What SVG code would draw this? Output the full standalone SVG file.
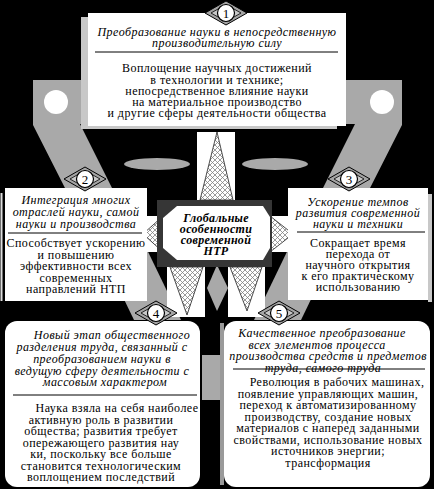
<svg xmlns="http://www.w3.org/2000/svg" width="434" height="489" viewBox="0 0 434 489">
<defs>
<pattern id="hatch" width="5" height="5" patternUnits="userSpaceOnUse">
<rect width="5" height="5" fill="#fff"/>
<path d="M0,0 L5,5 M5,0 L0,5" stroke="#808080" stroke-width="0.8"/>
</pattern>
<g id="badge">
<polygon points="-21,0 0,-12 21,0 0,12" fill="#a4a4a4" stroke="#000" stroke-width="1"/>
<polygon points="-15,0 0,-8.5 15,0 0,8.5" fill="#c8c8c8" stroke="#000" stroke-width="0.8"/>
<circle r="8.5" fill="#fff" stroke="#000" stroke-width="1.2"/>
</g>
</defs>
<style>
.band{fill:#a9a9a9}
.box{fill:#fff}
.shadow{fill:#c8c8c8}
.tri{fill:url(#hatch);stroke:#222;stroke-width:0.8}
.div{stroke:#000;stroke-width:1}
text{font-family:"Liberation Serif","Times New Roman","DejaVu Serif",serif;font-size:12px;letter-spacing:0.45px;text-anchor:middle;fill:#000}
.it{font-style:italic}
.ctr{font-weight:bold;font-style:italic;font-size:12px;letter-spacing:0.3px}
.num{font-size:13px;letter-spacing:0}
</style>
<rect width="434" height="489" fill="#000"/>

<g id="connectors">
<polygon class="band" points="33,80 88,80 88,124 80,124 113,190 66,190 33,125"/>
<polygon class="band" points="346,80 402,80 402,125 369,190 322,190 355,124 346,124"/>
<circle cx="56" cy="102" r="12" fill="#fff"/>
<circle cx="382" cy="102" r="12" fill="#fff"/>
<polygon class="band" points="76,200 123,200 181,320 134,320"/>
<polygon class="band" points="359,200 312,200 254,320 301,320"/>
<ellipse class="band" cx="157" cy="164" rx="33" ry="6"/>
<ellipse class="band" cx="275" cy="164" rx="33" ry="6"/>
<rect class="box" x="197" y="132" width="38" height="68"/>
<polygon class="tri" points="217,132 233,200 200,200"/>
<rect class="box" x="145" y="216" width="18" height="36"/>
<polygon class="tri" points="143,234 163,216 163,252"/>
<rect class="box" x="270" y="216" width="19" height="36"/>
<polygon class="tri" points="270,216 270,252 293,234"/>
<rect class="box" x="167" y="267" width="38" height="50"/>
<polygon class="tri" points="170,267 203,267 187,315"/>
<rect class="box" x="228" y="267" width="37" height="50"/>
<polygon class="tri" points="230,267 262,267 247,311"/>
<polygon class="band" points="217,265 228,288 217,311 207,288"/>
<rect class="band" x="202" y="355" width="18" height="45"/>
</g>

<g id="node-center">
<rect x="157" y="200" width="115" height="67" fill="#363636"/>
<polygon points="177,206 263,206 270,217 270,248 263,260 177,260 163,248 163,218" fill="#fff"/>
<text class="ctr" x="216" y="222">Глобальные</text>
<text class="ctr" x="216" y="233">особенности</text>
<text class="ctr" x="216" y="244">современной</text>
<text class="ctr" x="216" y="255">НТР</text>
</g>

<g id="node-1">
<rect class="shadow" x="81" y="17" width="7" height="112"/>
<rect class="shadow" x="81" y="126" width="256" height="3"/>
<rect class="box" x="88" y="13" width="258" height="113"/>
<line class="div" x1="95" y1="52" x2="338" y2="52"/>
<text class="it" x="217" y="36">Преобразование науки в непосредственную</text>
<text class="it" x="217" y="47">производительную силу</text>
<text x="217" y="72">Воплощение научных достижений</text>
<text x="217" y="83.5">в  технологии и технике;</text>
<text x="217" y="95">непосредственное влияние науки</text>
<text x="217" y="106">на материальное производство</text>
<text x="217" y="117">и другие сферы деятельности общества</text>
<use href="#badge" x="226" y="13"/>
<text class="num" x="226" y="17.5">1</text>
</g>

<g id="node-2">
<rect x="0.5" y="193" width="2" height="108" fill="#ddd"/>
<rect class="box" x="5" y="188" width="142" height="113"/>
<line class="div" x1="8" y1="233" x2="142" y2="233"/>
<text class="it" x="76" y="204">Интеграция многих</text>
<text class="it" x="76" y="216">отраслей науки, самой</text>
<text class="it" x="76" y="228">науки и производства</text>
<text x="76" y="247">Способствует ускорению</text>
<text x="76" y="258.5">и повышению</text>
<text x="76" y="270">эффективности всех</text>
<text x="76" y="281.5">современных</text>
<text x="76" y="293">направлений НТП</text>
<use href="#badge" x="85" y="179"/>
<text class="num" x="85" y="183.5">2</text>
</g>

<g id="node-3">
<rect class="shadow" x="428" y="194" width="4" height="108"/>
<rect class="box" x="288" y="188" width="140" height="112"/>
<line class="div" x1="297" y1="232" x2="425" y2="232"/>
<text class="it" x="358" y="206">Ускорение темпов</text>
<text class="it" x="358" y="217">развития современной</text>
<text class="it" x="358" y="228">науки и техники</text>
<text x="358" y="247">Сокращает время</text>
<text x="358" y="258">перехода от</text>
<text x="358" y="269">научного открытия</text>
<text x="358" y="280">к его практическому</text>
<text x="358" y="291">использованию</text>
<use href="#badge" x="349" y="179"/>
<text class="num" x="349" y="183.5">3</text>
</g>

<g id="node-4">
<rect class="box" x="5" y="321" width="195" height="166" rx="12"/>
<line class="div" x1="13" y1="395" x2="197" y2="395"/>
<text class="it" x="112" y="339">Новый этап общественного</text>
<text class="it" x="102" y="351">разделения труда, связанный с</text>
<text class="it" x="102" y="363">преобразованием науки в</text>
<text class="it" x="102" y="375">ведущую сферу деятельности с</text>
<text class="it" x="105" y="386">массовым характером</text>
<text x="117" y="412">Наука взяла на себя наиболее</text>
<text x="101" y="423.5">активную роль в развитии</text>
<text x="101" y="435">общества; развития требует</text>
<text x="101" y="446.5">опережающего развития нау</text>
<text x="101" y="458">ки, поскольку все больше</text>
<text x="101" y="469.5">становится технологическим</text>
<text x="101" y="481">воплощением последствий</text>
<use href="#badge" x="156" y="313"/>
<text class="num" x="156" y="317.5">4</text>
</g>

<g id="node-5">
<rect x="220" y="323" width="4" height="162" fill="#9a9a9a"/>
<rect class="box" x="224" y="321" width="206" height="166" rx="12"/>
<line class="div" x1="233" y1="369" x2="425" y2="369"/>
<text class="it" x="322" y="337">Качественное преобразование</text>
<text class="it" x="317" y="349">всех элементов процесса</text>
<text class="it" x="328" y="360">производства  средств и предметов</text>
<text class="it" x="323" y="372">труда, самого труда</text>
<text x="337" y="386">Революция в рабочих машинах,</text>
<text x="328" y="397.5">появление управляющих машин,</text>
<text x="328" y="409">переход к автоматизированному</text>
<text x="328" y="420.5">производству, создание новых</text>
<text x="328" y="432">материалов с наперед заданными</text>
<text x="328" y="443.5">свойствами, использование новых</text>
<text x="328" y="455">источников энергии;</text>
<text x="328" y="466.5">трансформация</text>
<use href="#badge" x="279" y="313"/>
<text class="num" x="279" y="317.5">5</text>
</g>
</svg>
